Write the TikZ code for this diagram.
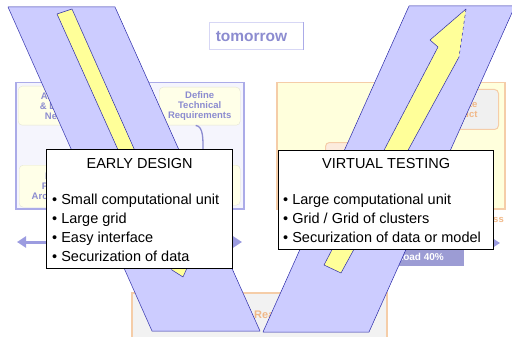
\documentclass[tikz,border=0pt]{standalone}
\usepackage{fontspec}
\setmainfont{Liberation Sans}
\usetikzlibrary{arrows.meta}
\usetikzlibrary{positioning}

\definecolor{bandfill}{HTML}{CCCCFF}
\definecolor{bandline}{HTML}{2A2AA8}
\definecolor{barfill}{HTML}{FFFF99}
\definecolor{lavtext}{HTML}{8C8CD0}
\definecolor{lavborder}{HTML}{ABABE8}
\definecolor{lavpanel}{HTML}{F5F5FD}
\definecolor{paleyellow}{HTML}{FFFFE8}
\definecolor{yellowpanel}{HTML}{FFFFDC}
\definecolor{peach}{HTML}{F5CDA8}
\definecolor{peachfill}{HTML}{FCEBDD}
\definecolor{orangetext}{HTML}{F0B888}
\definecolor{timeline}{HTML}{9C9CE0}
\definecolor{loadfill}{HTML}{9C9CD4}

\begin{document}
\begin{tikzpicture}[x=1pt,y=-1pt,
    panel/.style={anchor=north west,inner sep=0pt,line width=1.5pt},
    innerbox/.style={anchor=north west,rounded corners=4pt,inner sep=0pt,align=center,
      font=\fontsize{9.5}{10}\selectfont\bfseries},
    band/.style={fill=bandfill,draw=bandline,line width=0.5pt,line join=round},
    bar/.style={fill=barfill,draw=bandline,line width=0.5pt,line join=round},
    timearrow/.style={draw=timeline,line width=3pt,
      {Triangle[length=9pt,width=11pt]}-{Triangle[length=9pt,width=11pt]}},
    infobox/.style={draw=black,fill=white,line width=1.3pt,anchor=north west,inner sep=0pt},
    infotitle/.style={font=\fontsize{14.5}{19}\selectfont,anchor=base},
    infolist/.style={font=\fontsize{14.5}{19}\selectfont,align=left,anchor=north west,inner sep=0pt}]

  \useasboundingbox (0,0) rectangle (512,337);
  \clip (0,0) rectangle (512,337);

  % faded slide behind the V
  \node [draw=lavpanel!60!lavborder,fill=white,line width=1pt,minimum width=94pt,minimum height=27pt,inner sep=0pt] (tomorrowbox) at (256,36.5) {};
  \draw [lavborder,line width=1.2pt] (tomorrowbox.north east) -- (tomorrowbox.south east);
  \node [font=\fontsize{15.5}{16}\selectfont\bfseries,text=lavtext] (tomorrow) at (251.5,37) {tomorrow};

  \node [panel,draw=lavborder,fill=lavpanel,minimum width=228pt,minimum height=126pt] (designpanel) at (15,82) {};
  \node [innerbox,fill=paleyellow,draw=paleyellow!80!gray,minimum width=82pt,minimum height=39pt,text=lavtext] (needs) at (18,86) {Analyse\\\& Define\\Needs};
  \node [innerbox,fill=paleyellow,draw=paleyellow!80!gray,minimum width=81pt,minimum height=38pt,text=lavtext] (define) at (159,87) {Define\\Technical\\Requirements};
  \node [innerbox,fill=paleyellow,draw=paleyellow!80!gray,minimum width=81pt,minimum height=42pt,text=lavtext] (architecture) at (19,165) {Define\\Product\\Architecture};
  \node [innerbox,fill=paleyellow,draw=paleyellow!80!gray,minimum width=90pt,minimum height=40pt] (lowright) at (150,165) {};
  \coordinate (flowend) at (203,152);
  \draw [lavtext,line width=1.3pt] ([xshift=-4pt]define.south) .. controls +(8,1) and +(0,-12) .. (flowend);

  \node [panel,draw=peach,fill=yellowpanel,minimum width=228pt,minimum height=126pt] (testpanel) at (276,82) {};
  \node [innerbox,fill=gray!12,draw=peach,line width=1pt,minimum width=78pt,minimum height=40pt,text=orangetext] (validate) at (420,89) {Validate\\Product};
  \node [innerbox,fill=peachfill,draw=peach,line width=1pt,minimum width=95pt,minimum height=58pt] (testcase) at (325,142) {};
  \node [font=\fontsize{9.5}{10}\selectfont\bfseries,text=orangetext,anchor=east,inner sep=0pt] (process) at (504,219) {Process};

  \node [panel,draw=peach,fill=gray!10,minimum width=255pt,minimum height=60pt] (realizebox) at (131,292) {};
  \node [font=\fontsize{11}{12}\selectfont\bfseries,text=orangetext,anchor=west,inner sep=0pt] (realize) at (254,315) {Realize};

  \node [fill=loadfill,text=white,font=\fontsize{10}{11}\selectfont\bfseries,minimum width=87pt,minimum height=19pt,inner sep=0pt] (load) at (420.5,256.5) {Load 40\%};

  \coordinate (designstart) at (17,242);
  \coordinate (designend) at (242,242);
  \coordinate (teststart) at (285,243);
  \coordinate (testend) at (500,243);
  \draw [timearrow] (designstart) -- (designend);
  \draw [timearrow] (teststart) -- (testend);

  % the V
  \draw [band] (8,7) -- (115,7) -- (260,331) -- (152,331) -- cycle;
  \draw [band] (263,332) -- (369,332) -- (515,6) -- (409,6) -- cycle;

  \draw [bar] (57,14) -- (72,9) -- (187,268) -- (183,277) -- (172,270) -- cycle;
  \fill [barfill] (324,265) -- (438,47) -- (430,40) -- (466,9) -- (459,57) -- (341,273) -- cycle;
  \draw [bandline,line width=0.5pt,line join=round] (459,57) -- (341,273) -- (324,265) -- (438,47) -- (430,40) -- (466,9);
  \draw [bandline,line width=0.5pt,dashed] (466,9) -- (459,57);

  % the two boxes
  \node [infobox,minimum width=186pt,minimum height=119pt] (early) at (46,149) {};
  \node [infotitle] (earlytitle) at ([yshift=-19pt]early.north) {EARLY DESIGN};
  \node [infolist] (earlylist) at ([shift={(6,44.5)}]early.north west)
    {\textbullet\ Small computational unit\\
     \textbullet\ Large grid\\
     \textbullet\ Easy interface\\
     \textbullet\ Securization of data};

  \node [infobox,minimum width=215pt,minimum height=99pt] (virtual) at (278,150) {};
  \node [infotitle] (virtualtitle) at ([yshift=-18pt]virtual.north) {VIRTUAL TESTING};
  \node [infolist] (virtuallist) at ([shift={(5,43.5)}]virtual.north west)
    {\textbullet\ Large computational unit\\
     \textbullet\ Grid / Grid of clusters\\
     \textbullet\ Securization of data or model};

\end{tikzpicture}
\end{document}
